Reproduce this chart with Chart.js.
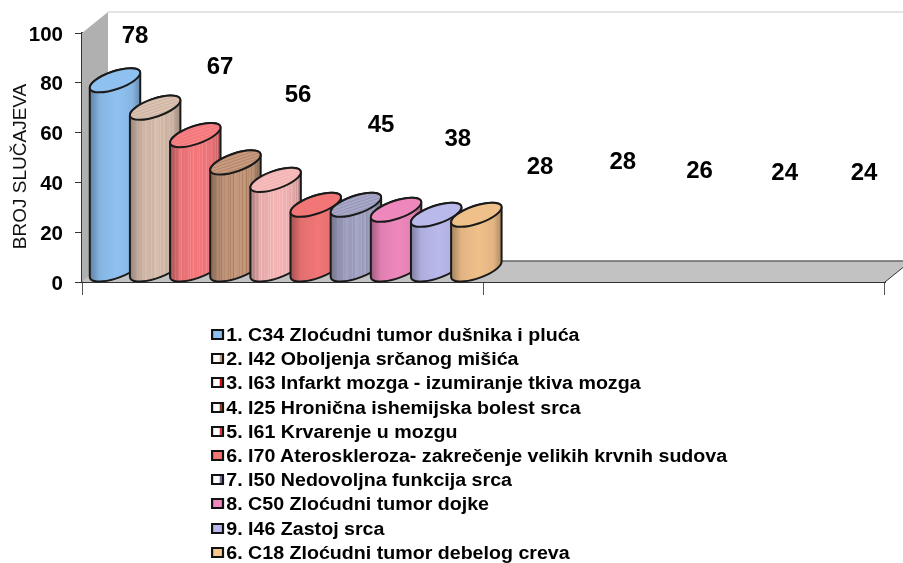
<!DOCTYPE html>
<html>
<head>
<meta charset="utf-8">
<script src="https://cdn.jsdelivr.net/npm/chart.js@4"></script>
<style>
    html, body { margin: 0; padding: 0; background: #fff; }
    #wrap { position: relative; width: 903px; height: 563px; overflow: hidden; }
    #legend { position: absolute; left: 211px; top: 323px; font: bold 18px "Liberation Sans", Arial, sans-serif; color: #000; transform: scaleX(1.09); transform-origin: left top; }
    #legend div { height: 24.2px; line-height: 24.2px; white-space: nowrap; }
    #legend i { display: inline-block; width: 8px; height: 7px; border: 2px solid #111; margin-right: 2px; vertical-align: 1px; box-sizing: content-box; }
</style>
</head>
<body>
<div id="wrap">
    <canvas id="chart" width="903" height="563"></canvas>
    <div id="legend"></div>
</div>
<script>
const categories = [
    '1. C34 Zloćudni tumor dušnika i pluća',
    '2. I42 Oboljenja srčanog mišića',
    '3. I63 Infarkt mozga - izumiranje tkiva mozga',
    '4. I25 Hronična ishemijska bolest srca',
    '5. I61 Krvarenje u mozgu',
    '6. I70 Ateroskleroza- zakrečenje velikih krvnih sudova',
    '7. I50 Nedovoljna funkcija srca',
    '8. C50 Zloćudni tumor dojke',
    '9. I46 Zastoj srca',
    '6. C18 Zloćudni tumor debelog creva'
];
const values = [78, 67, 56, 45, 38, 28, 28, 26, 24, 24];
const yTicks = [0, 20, 40, 60, 80, 100];
const axisTitle = 'BROJ SLUČAJEVA';

// styling per bar, kept apart from the values
const barColors = ['#8fc1f0', '#dcc3b2', '#f4777b', '#c79c80', '#f4b4b4', '#f27676', '#a9a9c9', '#ee88bc', '#b9b9ec', '#f0c08a'];
const stripeColors = [null, '#a88f80', '#ffb0b0', '#8f5a38', '#ffe0e0', null, '#6a6a8c', null, null, null];
const swatchFills = ['#8fc1f0', '#fff', '#fff', '#fff', '#fff', '#f27676', '#fff', '#ee88bc', '#b9b9ec', '#f7c890'];
const swatchEdges = ['#8fc1f0', '#c9a080', '#e00000', '#8f3a10', '#e03030', '#f27676', '#6a6aa0', '#ee88bc', '#b9b9ec', '#f7c890'];
// the value labels sit where the author dragged them: slot on x, level on y
const labelSlots = [1.32, 3.44, 5.38, 7.45, 9.36, 11.41, 13.47, 15.38, 17.5, 19.48];
const labelLevels = [98.8, 86.3, 75.1, 63.1, 57.4, 46.2, 48.2, 44.6, 43.8, 43.8];

// 20 slots on the axis, only the first 10 hold a bar
const slotLabels = categories.concat(categories).map((c, i) => String(i));

const DEPTH_X = 26, DEPTH_Y = 21;

function shade(hex, f) {
    const n = parseInt(hex.slice(1), 16);
    const ch = s => Math.round(((n >> s) & 255) * f);
    return `rgb(${ch(16)},${ch(8)},${ch(0)})`;
}

const walls = {
    id: 'walls',
    beforeDatasetsDraw(chart) {
        const { ctx, chartArea: a } = chart;
        ctx.save();
        // floor
        ctx.fillStyle = '#c2c2c2';
        ctx.beginPath();
        ctx.moveTo(a.left, a.bottom);
        ctx.lineTo(a.right, a.bottom);
        ctx.lineTo(a.right + DEPTH_X, a.bottom - DEPTH_Y);
        ctx.lineTo(a.left + DEPTH_X, a.bottom - DEPTH_Y);
        ctx.closePath();
        ctx.fill();
        ctx.strokeStyle = '#666';
        ctx.lineWidth = 1.5;
        ctx.beginPath();
        ctx.moveTo(a.left + DEPTH_X, a.bottom - DEPTH_Y);
        ctx.lineTo(a.right + DEPTH_X, a.bottom - DEPTH_Y);
        ctx.stroke();
        ctx.strokeStyle = '#333';
        ctx.lineWidth = 1;
        ctx.beginPath();
        ctx.moveTo(a.right, a.bottom);
        ctx.lineTo(a.right + DEPTH_X, a.bottom - DEPTH_Y);
        ctx.stroke();
        // side wall
        ctx.fillStyle = '#b0b0b0';
        ctx.beginPath();
        ctx.moveTo(a.left, a.top);
        ctx.lineTo(a.left + DEPTH_X, a.top - DEPTH_Y);
        ctx.lineTo(a.left + DEPTH_X, a.bottom - DEPTH_Y);
        ctx.lineTo(a.left, a.bottom);
        ctx.closePath();
        ctx.fill();
        // back wall top edge
        ctx.strokeStyle = '#e4e4e4';
        ctx.lineWidth = 2;
        ctx.beginPath();
        ctx.moveTo(a.left + DEPTH_X, a.top - DEPTH_Y);
        ctx.lineTo(chart.width, a.top - DEPTH_Y);
        ctx.stroke();
        ctx.restore();
    }
};

const cylinders = {
    id: 'cylinders',
    afterDatasetsDraw(chart) {
        const { ctx } = chart;
        const rx = 26.5, ry = 9, rot = -0.33, t0 = 0.116;
        chart.getDatasetMeta(0).data.forEach((bar, i) => {
            if (values[i] === undefined) return;
            const left = bar.x - bar.width / 2 + 8;
            const cx = left + 25;
            const cyTop = bar.y - 7.5;
            const cyBase = bar.base - 12.1;

            const body = new Path2D();
            body.ellipse(cx, cyBase, rx, ry, rot, t0, t0 + Math.PI, false);
            body.ellipse(cx, cyTop, rx, ry, rot, t0 + Math.PI, t0 + 2 * Math.PI, false);
            body.closePath();
            const cap = new Path2D();
            cap.ellipse(cx, cyTop, rx, ry, rot, 0, 2 * Math.PI);

            ctx.save();
            const grad = ctx.createLinearGradient(left, 0, left + 50, 0);
            grad.addColorStop(0, shade(barColors[i], 0.68));
            grad.addColorStop(0.2, shade(barColors[i], 0.94));
            grad.addColorStop(0.55, barColors[i]);
            grad.addColorStop(0.85, shade(barColors[i], 0.94));
            grad.addColorStop(1, shade(barColors[i], 0.72));
            ctx.fillStyle = grad;
            ctx.fill(body);
            if (stripeColors[i]) {
                ctx.save();
                ctx.clip(body);
                ctx.strokeStyle = stripeColors[i];
                ctx.lineWidth = 1;
                for (let k = 0, x = left + 2; x < left + 50; k++, x += 2 + (k % 3)) {
                    ctx.globalAlpha = 0.15 + (k % 4) * 0.1;
                    ctx.beginPath();
                    ctx.moveTo(x, bar.y - 30);
                    ctx.lineTo(x, bar.base);
                    ctx.stroke();
                }
                ctx.restore();
            }
            ctx.strokeStyle = '#1a1a1a';
            ctx.lineWidth = 2;
            ctx.stroke(body);

            // top cap
            ctx.fillStyle = barColors[i];
            ctx.fill(cap);
            if (stripeColors[i]) {
                ctx.save();
                ctx.clip(cap);
                ctx.strokeStyle = stripeColors[i];
                ctx.lineWidth = 1;
                ctx.globalAlpha = 0.35;
                for (let d = -14; d < 14; d += 3) {
                    ctx.beginPath();
                    ctx.moveTo(cx - 30, cyTop + 10 + d);
                    ctx.lineTo(cx + 30, cyTop - 10 + d);
                    ctx.stroke();
                }
                ctx.restore();
            }
            ctx.stroke(cap);
            ctx.restore();
        });
    }
};

const texts = {
    id: 'texts',
    afterDraw(chart) {
        const { ctx, scales: { x, y } } = chart;
        const slotW = x.getPixelForValue(1) - x.getPixelForValue(0);
        ctx.save();
        ctx.fillStyle = '#000';
        ctx.textAlign = 'center';
        ctx.textBaseline = 'middle';
        ctx.font = 'bold 24px "Liberation Sans", Arial, sans-serif';
        values.forEach((v, i) => {
            ctx.fillText(String(v), chart.chartArea.left + labelSlots[i] * slotW, y.getPixelForValue(labelLevels[i]));
        });
        ctx.translate(21, y.getPixelForValue(46.4));
        ctx.rotate(-Math.PI / 2);
        ctx.font = '19px "Liberation Sans", Arial, sans-serif';
        ctx.fillStyle = '#111';
        ctx.fillText(axisTitle, 0, 0);
        ctx.restore();
    }
};

new Chart(document.getElementById('chart'), {
    type: 'bar',
    data: {
        labels: slotLabels,
        datasets: [{
            data: values,
            backgroundColor: 'transparent',
            barPercentage: 1,
            categoryPercentage: 1
        }]
    },
    options: {
        responsive: false,
        animation: false,
        layout: { padding: { top: 33, right: 18 } },
        plugins: { legend: { display: false }, tooltip: { enabled: false } },
        scales: {
            x: {
                afterFit: s => { s.height = 281; },
                ticks: { display: false, autoSkip: false },
                grid: {
                    drawOnChartArea: false,
                    tickLength: 13,
                    tickColor: c => (c.index === undefined || c.index % 10 === 0) ? '#555' : 'transparent'
                },
                border: { color: '#333', width: 2 }
            },
            y: {
                min: 0,
                max: 100,
                afterFit: s => { s.width = 82; },
                afterBuildTicks: s => { s.ticks = yTicks.map(v => ({ value: v })); },
                ticks: { color: '#000', padding: 12, labelOffset: 2, font: { family: '"Liberation Sans", Arial, sans-serif', weight: 'bold', size: 20.5 } },
                grid: { drawOnChartArea: false, tickLength: 7, tickColor: '#333' },
                border: { color: '#333', width: 2 }
            }
        }
    },
    plugins: [walls, cylinders, texts]
});

document.getElementById('legend').innerHTML = categories.map((c, i) =>
    `<div><i style="background:${swatchFills[i]};box-shadow:inset -2px 0 0 ${swatchEdges[i]}"></i>${c}</div>`
).join('');
</script>
</body>
</html>
